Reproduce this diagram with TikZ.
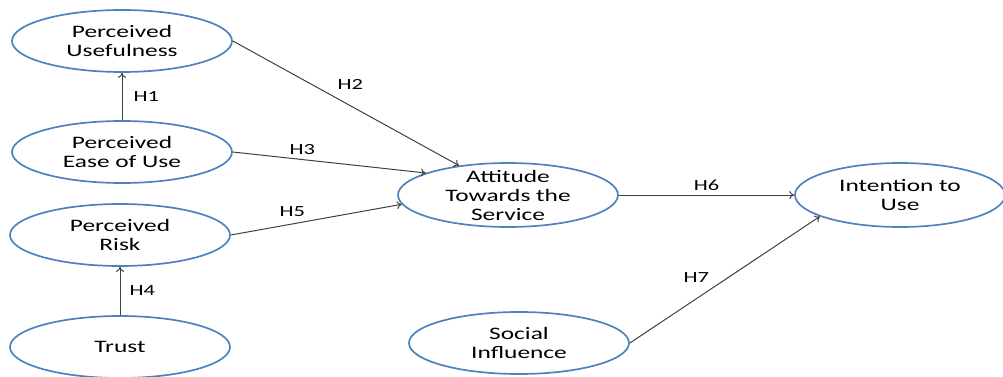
\documentclass[tikz,border=0pt]{standalone}
\usepackage{fontspec}
\setmainfont{Carlito}[FakeStretch=1.45]
\usepackage{tikz}
\usetikzlibrary{arrows.meta,shapes.geometric}
\definecolor{ellblue}{RGB}{79,129,189}
\definecolor{linegray}{RGB}{64,64,64}

\tikzset{
  construct/.style={draw=ellblue, line width=1.7pt, ellipse, minimum width=220pt, minimum height=62pt,
    inner xsep=0pt, inner ysep=-10pt, align=center, font=\fontsize{17.5}{19}\selectfont},
  hyp/.style={draw=linegray, line width=1pt, -{To[length=5pt,width=8pt]}},
  hlabel/.style={font=\fontsize{15.5}{17}\selectfont, inner sep=3pt}
}

\begin{document}
\begin{tikzpicture}[x=1pt,y=-1pt]
  \useasboundingbox (0,0) rectangle (1003,377);

  % constructs
  \node[construct] (pu) at (122,41) {Perceived\\Usefulness};
  \node[construct] (peu) at (122,152) {Perceived\\Ease of Use};
  \node[construct] (pr) at (120,235) {Perceived\\Risk};
  \node[construct] (trust) at (120,347) {Trust};
  \node[construct, minimum height=64pt] (att) at (508,195) {Attitude\\Towards the\\Service};
  \node[construct, minimum width=210pt, minimum height=64pt] (int) at (900,195) {Intention to\\Use};
  \node[construct] (soc) at (519,343) {Social\\Influence};

  % hypotheses
  \draw[hyp] (peu.north) -- (pu.south) node[midway, right=8pt, hlabel]{H1};
  \draw[hyp] (trust.north) -- (pr.south) node[midway, right=6pt, hlabel]{H4};
  \draw[hyp] (pu.east) -- (att.149) node[pos=0.52, above=13pt, hlabel]{H2};
  \draw[hyp] (peu.east) -- (att.165) node[pos=0.36, above=1pt, hlabel]{H3};
  \draw[hyp] (pr.east) -- (att.185) node[pos=0.36, above=4pt, hlabel]{H5};
  \draw[hyp] (att.east) -- (int.west) node[midway, above=1pt, hlabel]{H6};
  \draw[hyp] (soc.east) -- (int.195) node[pos=0.35, above=13pt, hlabel]{H7};
\end{tikzpicture}
\end{document}
